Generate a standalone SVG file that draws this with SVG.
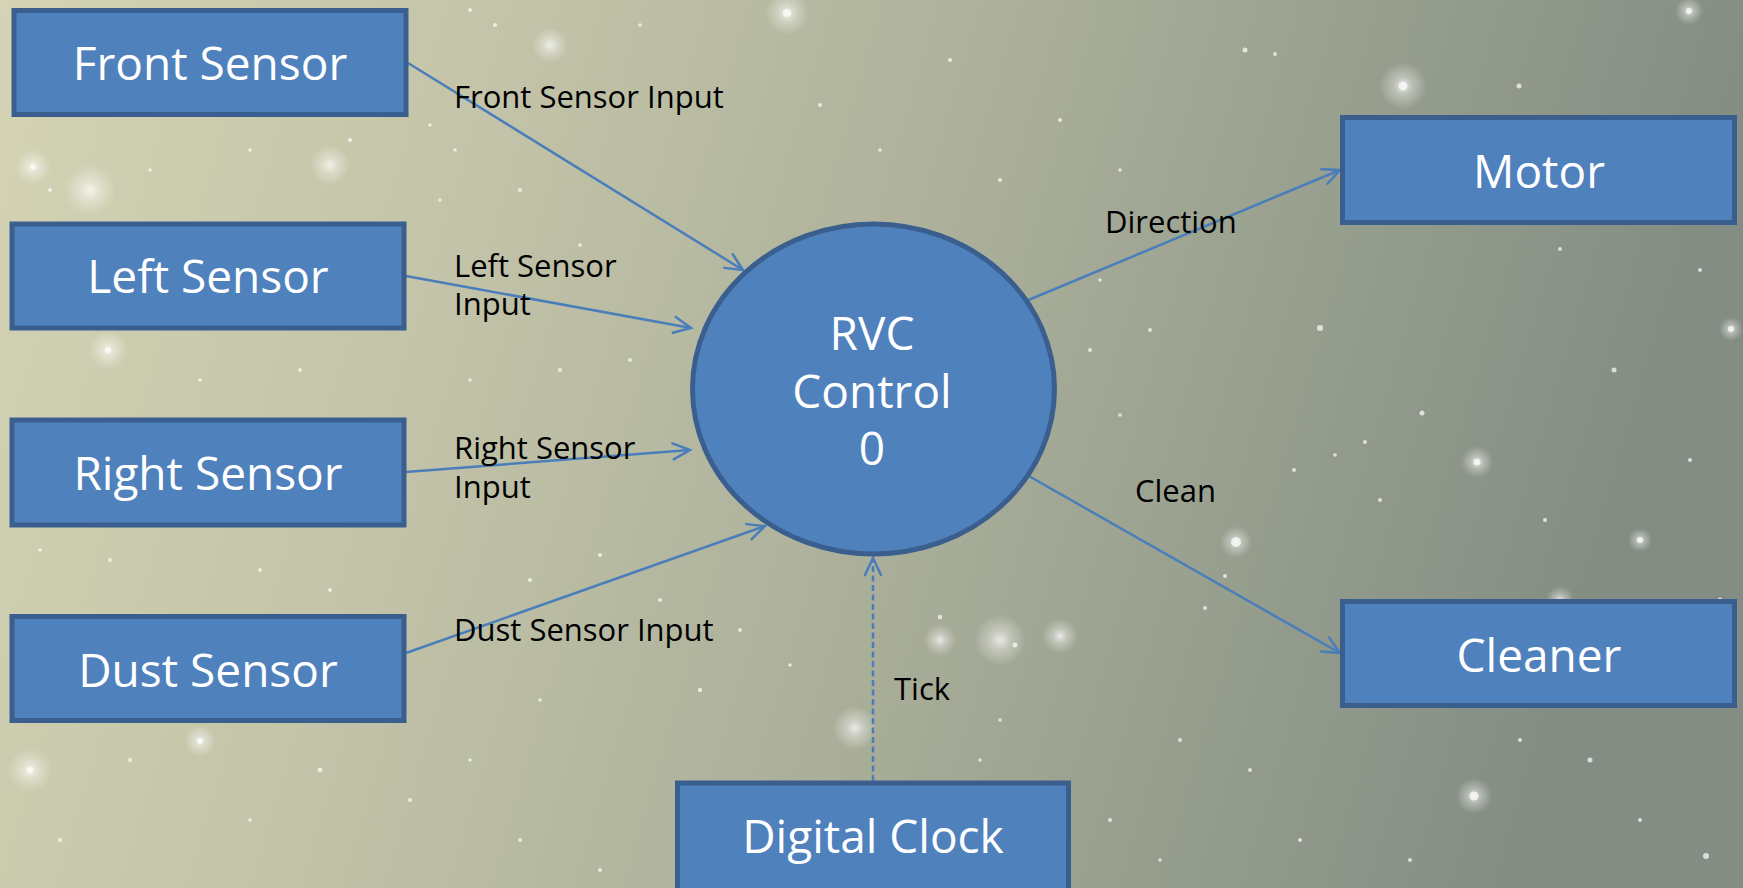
<svg xmlns="http://www.w3.org/2000/svg" width="1743" height="888" viewBox="0 0 1743 888">
  <defs>
    <linearGradient id="bg" x1="0" y1="0" x2="1" y2="0.15">
      <stop offset="0" stop-color="#D4D3B4"/>
      <stop offset="0.3" stop-color="#C2C3A8"/>
      <stop offset="0.55" stop-color="#AEB29C"/>
      <stop offset="0.8" stop-color="#959D8D"/>
      <stop offset="1" stop-color="#838D83"/>
    </linearGradient>
    <radialGradient id="glow">
      <stop offset="0" stop-color="#FFFFFF" stop-opacity="0.75"/>
      <stop offset="0.4" stop-color="#FFFFFF" stop-opacity="0.35"/>
      <stop offset="1" stop-color="#FFFFFF" stop-opacity="0"/>
    </radialGradient>
    <marker id="arr" markerUnits="userSpaceOnUse" markerWidth="26" markerHeight="26" viewBox="-22 -13 26 26" refX="0" refY="0" orient="auto" overflow="visible">
      <path d="M-17,-8 L0,0 L-17,8" fill="none" stroke="#4A7EBB" stroke-width="2.5" stroke-linecap="round" stroke-linejoin="miter"/>
    </marker>
  </defs>
  <style>
    .box { fill: #4F81BD; stroke: #3A5F8E; stroke-width: 5; }
    .node-text { font-family: "Open Sans", "Noto Sans", sans-serif; font-size: 46px; fill: #FFFFFF; text-anchor: middle; }
    .label { font-family: "Open Sans", "Noto Sans", sans-serif; font-size: 31px; fill: #000000; }
    .flow { fill: none; stroke: #4A7EBB; stroke-width: 2.5; marker-end: url(#arr); }
    .dashed { stroke-dasharray: 6 3.5; }
    .star { fill: #FFFFFF; }
  </style>

  <!-- background -->
  <rect x="0" y="0" width="1743" height="888" fill="url(#bg)"/>

  <!-- soft glows -->
  <g id="glows" fill="url(#glow)">
    <circle cx="787" cy="13" r="22"/>
    <circle cx="1403" cy="86" r="24"/>
    <circle cx="1689" cy="11" r="14"/>
    <circle cx="1236" cy="542" r="16"/>
    <circle cx="1477" cy="462" r="16"/>
    <circle cx="1474" cy="796" r="18"/>
    <circle cx="1731" cy="329" r="12"/>
    <circle cx="33" cy="167" r="18"/>
    <circle cx="90" cy="190" r="26"/>
    <circle cx="108" cy="350" r="20"/>
    <circle cx="30" cy="770" r="22"/>
    <circle cx="200" cy="741" r="16"/>
    <circle cx="1000" cy="640" r="26"/>
    <circle cx="1060" cy="636" r="18"/>
    <circle cx="855" cy="728" r="22"/>
    <circle cx="330" cy="165" r="20"/>
    <circle cx="550" cy="45" r="18"/>
    <circle cx="940" cy="640" r="16"/>
    <circle cx="1640" cy="540" r="12"/>
    <circle cx="1560" cy="600" r="14"/>
  </g>

  <!-- star specks -->
  <g id="specks" class="star" opacity="0.7">
    <circle cx="787" cy="13" r="4"/>
    <circle cx="1403" cy="86" r="4.5"/>
    <circle cx="1689" cy="11" r="3"/>
    <circle cx="1236" cy="542" r="5"/>
    <circle cx="1477" cy="462" r="3.5"/>
    <circle cx="1474" cy="796" r="4.5"/>
    <circle cx="1731" cy="329" r="3"/>
    <circle cx="1640" cy="540" r="3"/>
    <circle cx="1245" cy="50" r="2.5"/>
    <circle cx="1275" cy="54" r="2"/>
    <circle cx="1519" cy="86" r="2.5"/>
    <circle cx="1320" cy="328" r="3"/>
    <circle cx="1422" cy="413" r="2.5"/>
    <circle cx="1365" cy="442" r="2"/>
    <circle cx="1614" cy="370" r="2.5"/>
    <circle cx="1700" cy="270" r="2"/>
    <circle cx="1560" cy="249" r="2"/>
    <circle cx="1150" cy="330" r="2"/>
    <circle cx="1100" cy="280" r="1.8"/>
    <circle cx="1090" cy="350" r="2"/>
    <circle cx="1120" cy="415" r="1.8"/>
    <circle cx="1225" cy="576" r="2"/>
    <circle cx="1205" cy="608" r="2"/>
    <circle cx="1294" cy="470" r="2"/>
    <circle cx="1380" cy="500" r="2"/>
    <circle cx="1335" cy="455" r="1.8"/>
    <circle cx="1545" cy="520" r="2"/>
    <circle cx="1690" cy="460" r="2"/>
    <circle cx="1720" cy="600" r="2.5"/>
    <circle cx="1680" cy="700" r="2"/>
    <circle cx="1520" cy="740" r="2"/>
    <circle cx="1590" cy="760" r="2.5"/>
    <circle cx="1640" cy="820" r="2"/>
    <circle cx="1706" cy="856" r="3"/>
    <circle cx="1250" cy="770" r="2"/>
    <circle cx="1180" cy="740" r="2"/>
    <circle cx="1110" cy="820" r="2"/>
    <circle cx="1300" cy="840" r="2"/>
    <circle cx="1410" cy="860" r="2"/>
    <circle cx="1160" cy="860" r="1.8"/>
    <circle cx="980" cy="760" r="1.8"/>
    <circle cx="1000" cy="180" r="2"/>
    <circle cx="1060" cy="120" r="2"/>
    <circle cx="1120" cy="170" r="1.8"/>
    <circle cx="950" cy="60" r="2"/>
    <circle cx="880" cy="150" r="1.8"/>
    <circle cx="820" cy="105" r="2"/>
    <circle cx="640" cy="25" r="1.8"/>
    <circle cx="495" cy="25" r="2"/>
    <circle cx="455" cy="150" r="1.8"/>
    <circle cx="520" cy="190" r="2"/>
    <circle cx="580" cy="245" r="1.8"/>
    <circle cx="560" cy="370" r="2"/>
    <circle cx="630" cy="360" r="2"/>
    <circle cx="470" cy="380" r="1.8"/>
    <circle cx="600" cy="555" r="2"/>
    <circle cx="530" cy="580" r="2"/>
    <circle cx="660" cy="600" r="2"/>
    <circle cx="740" cy="630" r="2"/>
    <circle cx="700" cy="690" r="2.2"/>
    <circle cx="790" cy="665" r="1.8"/>
    <circle cx="940" cy="617" r="2.2"/>
    <circle cx="1015" cy="645" r="2.5"/>
    <circle cx="1000" cy="720" r="1.8"/>
    <circle cx="540" cy="700" r="1.8"/>
    <circle cx="470" cy="760" r="1.8"/>
    <circle cx="520" cy="840" r="2"/>
    <circle cx="600" cy="870" r="2"/>
    <circle cx="410" cy="800" r="2"/>
    <circle cx="320" cy="770" r="2.5"/>
    <circle cx="250" cy="820" r="1.8"/>
    <circle cx="130" cy="760" r="2"/>
    <circle cx="200" cy="741" r="3"/>
    <circle cx="60" cy="840" r="2"/>
    <circle cx="30" cy="770" r="3"/>
    <circle cx="40" cy="550" r="1.8"/>
    <circle cx="110" cy="560" r="2"/>
    <circle cx="260" cy="570" r="2"/>
    <circle cx="330" cy="590" r="2"/>
    <circle cx="200" cy="380" r="1.8"/>
    <circle cx="300" cy="370" r="2"/>
    <circle cx="108" cy="350" r="3"/>
    <circle cx="50" cy="190" r="2"/>
    <circle cx="33" cy="167" r="2.5"/>
    <circle cx="150" cy="170" r="1.8"/>
    <circle cx="250" cy="150" r="1.8"/>
    <circle cx="350" cy="140" r="2"/>
    <circle cx="430" cy="125" r="1.8"/>
    <circle cx="440" cy="200" r="1.8"/>
    <circle cx="470" cy="10" r="2"/>
  </g>

  <!-- connectors -->
  <g id="connectors">
    <line class="flow" x1="408" y1="63" x2="743" y2="270"/>
    <line class="flow" x1="406" y1="276" x2="691" y2="328"/>
    <line class="flow" x1="406" y1="472" x2="690" y2="450"/>
    <line class="flow" x1="406" y1="653" x2="765" y2="526"/>
    <line class="flow" x1="1026" y1="301" x2="1340" y2="170"/>
    <line class="flow" x1="1027" y1="475" x2="1340" y2="653"/>
    <line class="flow dashed" x1="873" y1="781" x2="873" y2="558"/>
  </g>

  <!-- connector labels -->
  <g id="connector-labels" class="label">
    <text x="454" y="108">Front Sensor Input</text>
    <text x="454" y="277">Left Sensor<tspan x="454" dy="38">Input</tspan></text>
    <text x="454" y="459">Right Sensor<tspan x="454" dy="39">Input</tspan></text>
    <text x="454" y="641">Dust Sensor Input</text>
    <text x="1105" y="233">Direction</text>
    <text x="1135" y="502">Clean</text>
    <text x="894" y="700">Tick</text>
  </g>

  <!-- nodes -->
  <g id="front-sensor">
    <rect class="box" x="14" y="10.5" width="392" height="104"/>
    <text class="node-text" x="210" y="80">Front Sensor</text>
  </g>
  <g id="left-sensor">
    <rect class="box" x="12" y="224" width="392" height="104"/>
    <text class="node-text" x="208" y="293">Left Sensor</text>
  </g>
  <g id="right-sensor">
    <rect class="box" x="12" y="420" width="392" height="105"/>
    <text class="node-text" x="208" y="490">Right Sensor</text>
  </g>
  <g id="dust-sensor">
    <rect class="box" x="12" y="616.5" width="392" height="104"/>
    <text class="node-text" x="208" y="687">Dust Sensor</text>
  </g>
  <g id="rvc-control">
    <ellipse cx="873.5" cy="389" rx="181" ry="165" fill="#4F81BD" stroke="#3A5F8E" stroke-width="5"/>
    <text class="node-text" x="872" y="350">RVC</text>
    <text class="node-text" x="872" y="408">Control</text>
    <text class="node-text" x="872" y="465">0</text>
  </g>
  <g id="motor">
    <rect class="box" x="1342.5" y="117.5" width="392" height="105"/>
    <text class="node-text" x="1539" y="188">Motor</text>
  </g>
  <g id="cleaner">
    <rect class="box" x="1342.5" y="601.5" width="392" height="104"/>
    <text class="node-text" x="1539" y="672">Cleaner</text>
  </g>
  <g id="digital-clock">
    <rect class="box" x="677.5" y="783" width="391" height="110"/>
    <text class="node-text" x="873" y="853">Digital Clock</text>
  </g>
</svg>
